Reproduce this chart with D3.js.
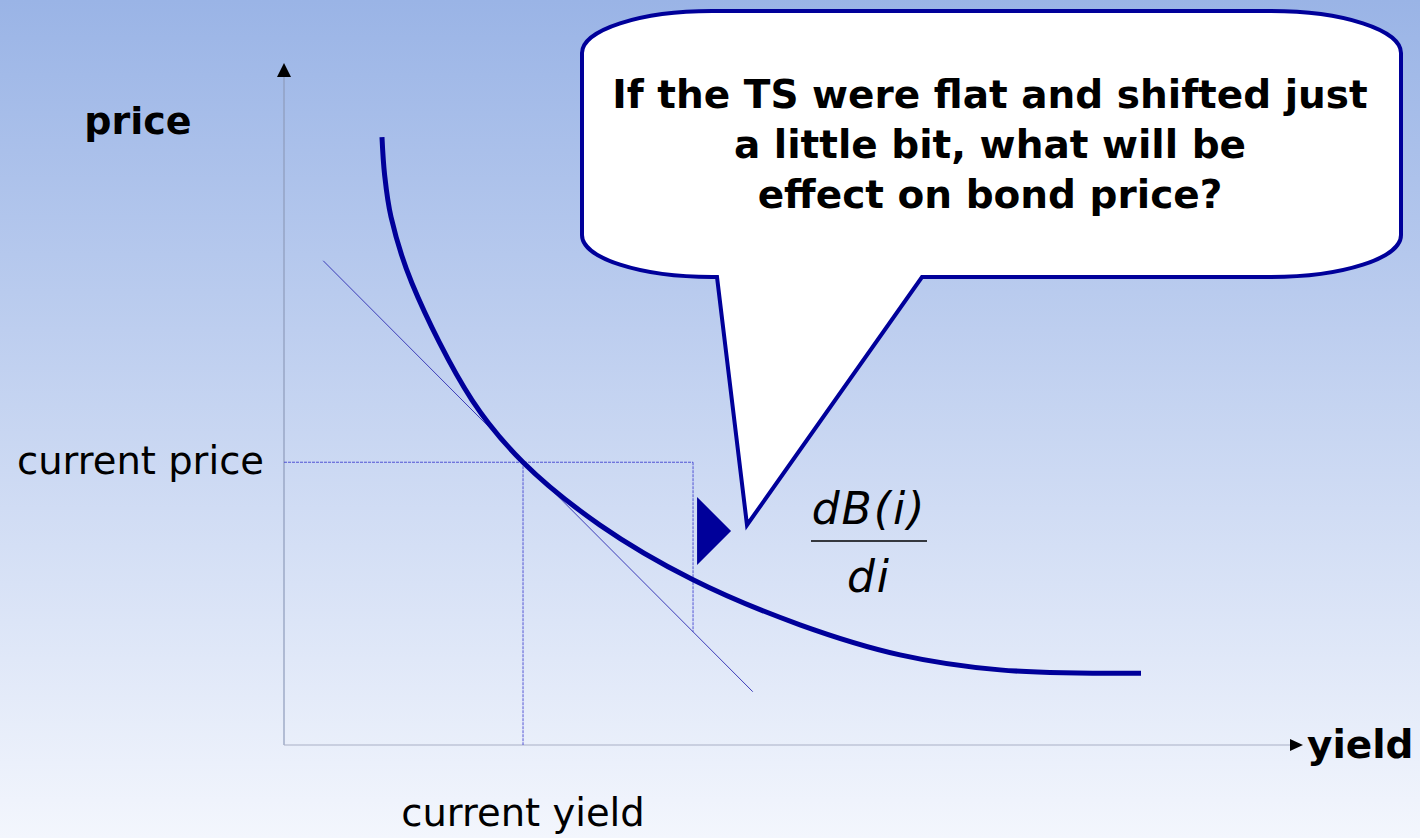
<!DOCTYPE html>
<html>
<head>
<meta charset="utf-8">
<script src="https://cdn.jsdelivr.net/npm/d3@7"></script>
<style>
    html, body { margin: 0; padding: 0; }
    body { width: 1420px; height: 838px; overflow: hidden; }
    svg { display: block; font-family: "DejaVu Sans", Verdana, sans-serif; }
</style>
</head>
<body>
<div id="chart"></div>
<script>
// price / yield curve (data units, axes run 0..100)
const curveYield = [9.74, 10.0, 10.64, 12.72, 18.69, 23.76, 31.41, 40.66, 51.29, 61.23, 71.17, 85.19];
const curvePrice = [89.0, 83.5, 77.3, 67.6, 50.5, 41.4, 32.2, 24.2, 17.6, 13.2, 11.0, 10.5];

// tangent at the current point
const tangentYield = [3.9, 46.6];
const tangentPrice = [70.9, 7.8];

const currentYield = 23.76;
const currentPrice = 41.4;
const shiftedYield = 40.66;

const axisLabels = ["price", "yield"];
const pointLabels = ["current price", "current yield"];
const calloutLines = ["If the TS were flat and shifted just", "a little bit, what will be", "effect on bond price?"];
const fraction = ["dB(i)", "di"];

const width = 1420;
const height = 838;
const navy = "#00009a";

const x = d3.scaleLinear().domain([0, 100]).range([284, 1290]);
const y = d3.scaleLinear().domain([0, 100]).range([745, 62]);

const svg = d3.select("#chart").append("svg")
    .attr("width", width)
    .attr("height", height);

const defs = svg.append("defs");
const grad = defs.append("linearGradient")
    .attr("id", "bg")
    .attr("x1", 0).attr("y1", 0)
    .attr("x2", 0).attr("y2", 1);
grad.append("stop").attr("offset", "0%").attr("stop-color", "#9ab4e6");
grad.append("stop").attr("offset", "100%").attr("stop-color", "#f3f6fd");

svg.append("rect")
    .attr("width", width)
    .attr("height", height)
    .attr("fill", "url(#bg)");

// axes
svg.append("line")
    .attr("x1", x(0)).attr("y1", y(0))
    .attr("x2", x(0)).attr("y2", y(100) + 14)
    .attr("stroke", "#8e9bbb")
    .attr("stroke-width", 1.2);

svg.append("line")
    .attr("x1", x(0)).attr("y1", y(0))
    .attr("x2", x(100)).attr("y2", y(0))
    .attr("stroke", "#a9b0c6")
    .attr("stroke-width", 1.2);

svg.append("path")
    .attr("d", "M" + x(0) + "," + (y(100) + 1) + " l7,14 h-14 Z")
    .attr("fill", "#000");

svg.append("path")
    .attr("d", "M" + (x(100) + 13) + "," + y(0) + " l-13,-6 v12 Z")
    .attr("fill", "#000");

// dashed guides
const tangentAt = d3.scaleLinear().domain(tangentYield).range(tangentPrice);

const guides = [
    [[0, currentPrice], [shiftedYield, currentPrice]],
    [[currentYield, currentPrice], [currentYield, 0]],
    [[shiftedYield, currentPrice], [shiftedYield, tangentAt(shiftedYield)]]
];

svg.selectAll(".guide")
    .data(guides)
    .enter().append("line")
    .attr("class", "guide")
    .attr("x1", d => x(d[0][0])).attr("y1", d => y(d[0][1]))
    .attr("x2", d => x(d[1][0])).attr("y2", d => y(d[1][1]))
    .attr("stroke", "#3c3cd0")
    .attr("stroke-width", 1)
    .attr("stroke-dasharray", "3,1")
    .attr("opacity", 0.85);

// tangent line
svg.append("line")
    .attr("x1", x(tangentYield[0])).attr("y1", y(tangentPrice[0]))
    .attr("x2", x(tangentYield[1])).attr("y2", y(tangentPrice[1]))
    .attr("stroke", "#3c3cb8")
    .attr("stroke-width", 1);

// curve
const line = d3.line()
    .x(d => x(d[0]))
    .y(d => y(d[1]))
    .curve(d3.curveCatmullRom.alpha(0.5));

svg.append("path")
    .datum(d3.zip(curveYield, curvePrice))
    .attr("d", line)
    .attr("fill", "none")
    .attr("stroke", navy)
    .attr("stroke-width", 5);

// marker triangle
const mx = x(shiftedYield) + 4;
svg.append("path")
    .attr("d", "M" + mx + ",497 L" + (mx + 34) + ",531 L" + mx + ",565 Z")
    .attr("fill", navy);

// callout
const L = 582, R = 1401, T = 11, B = 277, rx = 130, ry = 42;
const calloutPath = [
    "M", L + rx, T,
    "H", R - rx,
    "A", rx, ry, 0, 0, 1, R, T + ry,
    "V", B - ry,
    "A", rx, ry, 0, 0, 1, R - rx, B,
    "H", 922,
    "L", 747, 525,
    "L", 717, B,
    "H", L + rx,
    "A", rx, ry, 0, 0, 1, L, B - ry,
    "V", T + ry,
    "A", rx, ry, 0, 0, 1, L + rx, T,
    "Z"
].join(" ");

svg.append("path")
    .attr("d", calloutPath)
    .attr("fill", "#fff")
    .attr("stroke", navy)
    .attr("stroke-width", 4)
    .attr("stroke-linejoin", "miter");

svg.append("g")
    .selectAll("text")
    .data(calloutLines)
    .enter().append("text")
    .attr("x", 990)
    .attr("y", (d, i) => 108 + i * 50)
    .attr("text-anchor", "middle")
    .attr("font-size", 39)
    .attr("font-weight", "bold")
    .attr("fill", "#000")
    .text(d => d);

// axis titles
svg.append("text")
    .attr("x", 138).attr("y", 134)
    .attr("text-anchor", "middle")
    .attr("font-size", 38)
    .attr("font-weight", "bold")
    .text(axisLabels[0]);

svg.append("text")
    .attr("x", 1307).attr("y", 758)
    .attr("font-size", 39)
    .attr("font-weight", "bold")
    .text(axisLabels[1]);

// point labels
svg.append("text")
    .attr("x", 264).attr("y", 474)
    .attr("text-anchor", "end")
    .attr("font-size", 38.5)
    .text(pointLabels[0]);

svg.append("text")
    .attr("x", x(currentYield)).attr("y", 826)
    .attr("text-anchor", "middle")
    .attr("font-size", 38.5)
    .text(pointLabels[1]);

// dB(i)/di
svg.append("text")
    .attr("x", 869).attr("y", 524)
    .attr("text-anchor", "middle")
    .attr("font-size", 44)
    .attr("font-style", "italic")
    .attr("letter-spacing", 2)
    .text(fraction[0]);

svg.append("line")
    .attr("x1", 811).attr("y1", 541)
    .attr("x2", 927).attr("y2", 541)
    .attr("stroke", "#000")
    .attr("stroke-width", 1.5);

svg.append("text")
    .attr("x", 869).attr("y", 592)
    .attr("text-anchor", "middle")
    .attr("font-size", 44)
    .attr("font-style", "italic")
    .attr("letter-spacing", 2)
    .text(fraction[1]);
</script>
</body>
</html>
